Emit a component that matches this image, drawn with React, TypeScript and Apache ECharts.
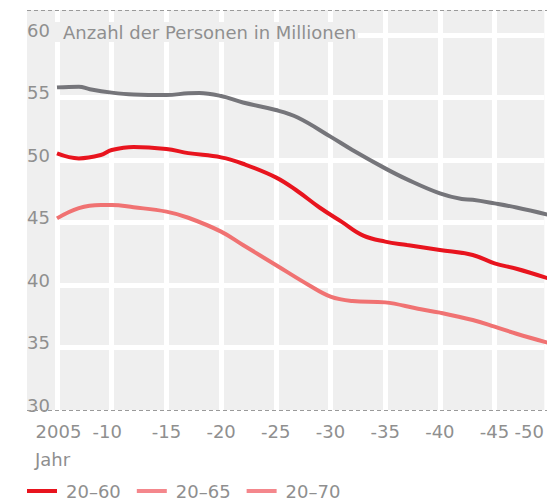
import React, { useEffect, useRef } from "react";
import * as echarts from "echarts";

// Years and values (million persons)
const years20to70 = [2005, 2007, 2008, 2010, 2012, 2015, 2017, 2018, 2020, 2022, 2025, 2027, 2030, 2032, 2035, 2037, 2040, 2042, 2043, 2045, 2047, 2050];
const values20to70 = [55.81, 55.87, 55.66, 55.39, 55.24, 55.2, 55.34, 55.36, 55.12, 54.6, 54.0, 53.4, 51.87, 50.8, 49.33, 48.45, 47.33, 46.88, 46.82, 46.53, 46.2, 45.6];

const years20to65 = [2005, 2007, 2009, 2010, 2012, 2015, 2017, 2020, 2022, 2025, 2027, 2029, 2031, 2033, 2035, 2037, 2040, 2043, 2045, 2047, 2050];
const values20to65 = [50.53, 50.13, 50.4, 50.8, 51.05, 50.88, 50.55, 50.21, 49.7, 48.61, 47.5, 46.2, 45.07, 43.95, 43.47, 43.2, 42.8, 42.4, 41.73, 41.3, 40.5];

const years20to60 = [2005, 2007, 2009, 2010, 2012, 2015, 2017, 2020, 2022, 2025, 2028, 2030, 2032, 2035, 2038, 2040, 2043, 2045, 2047, 2050];
const values20to60 = [45.33, 46.15, 46.4, 46.4, 46.22, 45.87, 45.38, 44.27, 43.2, 41.6, 40.0, 39.07, 38.72, 38.61, 38.1, 37.79, 37.2, 36.67, 36.1, 35.35];

const legendNames = ["20–60", "20–65", "20–70"];
const yAxisTitle = "Anzahl der Personen in Millionen";
const xAxisTitle = "Jahr";

const FONT = "DejaVu Sans";
const TEXT = "#8f8f8f";
const BG = "#efefef";

const pairs = (xs: number[], ys: number[]) => xs.map((x, i) => [x, ys[i]]);

export default function App() {
  const ref = useRef<HTMLDivElement>(null);
  useEffect(() => {
    document.documentElement.style.overflow = "hidden";
    document.body.style.margin = "0";
    document.body.style.overflow = "hidden";
    if (!ref.current) return;
    const chart = echarts.init(ref.current, null, { renderer: "svg" });
    const W = 547;
    const H = 503;
    const gridLeft = 57;
    const gridTop = 10;
    const gridBottom = 93;
    const bottomY = H - gridBottom;
    const pxPerYear = 11;
    // the visible window ends a little before 2050 (the picture is cropped)
    const xMax = 2005 + (W - gridLeft) / pxPerYear;
    chart.setOption({
      animation: false,
      textStyle: { fontFamily: FONT },
      grid: {
        left: gridLeft,
        right: 0,
        top: gridTop,
        bottom: gridBottom,
        show: true,
        backgroundColor: BG,
        borderWidth: 0,
      },
      xAxis: {
        type: "value",
        min: 2005,
        max: xMax,
        interval: 5,
        axisLine: { show: false },
        axisTick: { show: false },
        splitLine: {
          show: true,
          showMaxLine: false,
          lineStyle: { color: "#ffffff", width: 5 },
        },
        axisLabel: {
          color: TEXT,
          fontSize: 18,
          fontFamily: FONT,
          margin: 12,
          showMaxLabel: true,
          showMinLabel: true,
          formatter: (v: number) => {
            if (v === 2005) return "{f|2005}";
            if (v > 2046) return "{e|-50}";
            const s = "-" + String(Math.round(v) % 100).padStart(2, "0");
            if (v === 2010) return "{t|" + s + "}";
            return "{n|" + s + "}";
          },
          rich: {
            f: { color: TEXT, fontSize: 18, fontFamily: FONT, padding: [0, 0, 0, 3] },
            t: { color: TEXT, fontSize: 18, fontFamily: FONT, padding: [0, 9, 0, 0] },
            e: { color: TEXT, fontSize: 18, fontFamily: FONT, padding: [0, 30, 0, 0] },
            n: { color: TEXT, fontSize: 18, fontFamily: FONT },
          },
        },
      },
      yAxis: {
        type: "value",
        min: 30,
        max: 62,
        interval: 5,
        axisLine: { show: false },
        axisTick: { show: false },
        splitLine: {
          show: true,
          showMinLine: false,
          showMaxLine: false,
          lineStyle: { color: "#ffffff", width: 5 },
        },
        axisLabel: {
          color: TEXT,
          fontSize: 18,
          fontFamily: FONT,
          margin: 7,
          verticalAlign: "bottom",
          lineHeight: 10,
          showMaxLabel: false,
          formatter: (v: number) => (v > 60 ? "" : String(v)),
        },
      },
      legend: {
        left: 27,
        top: 482,
        padding: 0,
        icon: "rect",
        itemWidth: 30,
        itemHeight: 4,
        itemGap: 16,
        textStyle: { color: TEXT, fontSize: 18, fontFamily: FONT, padding: [0, 0, 0, 4] },
        data: [
          { name: legendNames[0], itemStyle: { color: "#e8141e" } },
          { name: legendNames[1], itemStyle: { color: "#f4878c" } },
          { name: legendNames[2], itemStyle: { color: "#f4878c" } },
        ],
      },
      graphic: [
        {
          type: "rect",
          shape: { x: 27, y: gridTop, width: gridLeft - 27, height: bottomY - gridTop },
          style: { fill: BG },
          z: 0,
        },
        {
          type: "rect",
          shape: { x: 55, y: 22, width: 303, height: 20 },
          style: { fill: BG },
          z: 10,
        },
        {
          type: "text",
          x: 63,
          y: 32,
          z: 11,
          style: { text: yAxisTitle, fill: TEXT, fontSize: 18, fontFamily: FONT, verticalAlign: "middle" },
        },
        {
          type: "line",
          z: 11,
          shape: { x1: 27, y1: gridTop + 0.5, x2: W, y2: gridTop + 0.5 },
          style: { stroke: "#9a9a9a", lineWidth: 1, lineDash: [4, 3] },
        },
        {
          type: "line",
          z: 11,
          shape: { x1: 27, y1: bottomY + 0.5, x2: W, y2: bottomY + 0.5 },
          style: { stroke: "#9a9a9a", lineWidth: 1, lineDash: [4, 3] },
        },
        {
          type: "text",
          x: 35,
          y: 459,
          z: 11,
          style: { text: xAxisTitle, fill: TEXT, fontSize: 18, fontFamily: FONT, verticalAlign: "middle" },
        },
      ],
      series: [
        {
          name: legendNames[0],
          type: "line",
          data: pairs(years20to60, values20to60),
          smooth: 0.4,
          showSymbol: false,
          clip: true,
          lineStyle: { color: "#f07272", width: 4 },
          itemStyle: { color: "#f07272" },
          z: 3,
        },
        {
          name: legendNames[1],
          type: "line",
          data: pairs(years20to65, values20to65),
          smooth: 0.4,
          showSymbol: false,
          clip: true,
          lineStyle: { color: "#e8141e", width: 4 },
          itemStyle: { color: "#e8141e" },
          z: 3,
        },
        {
          name: legendNames[2],
          type: "line",
          data: pairs(years20to70, values20to70),
          smooth: 0.4,
          showSymbol: false,
          clip: true,
          lineStyle: { color: "#75757a", width: 4 },
          itemStyle: { color: "#75757a" },
          z: 3,
        },
      ],
    });
    return () => chart.dispose();
  }, []);
  return (
    <div
      ref={ref}
      style={{ position: "absolute", left: 0, top: 0, width: 547, height: 503 }}
    />
  );
}
